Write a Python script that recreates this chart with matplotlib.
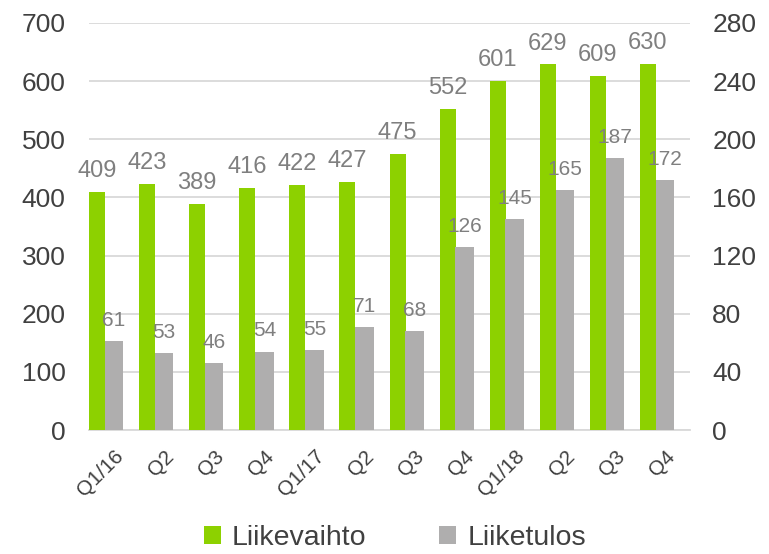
import matplotlib
matplotlib.use("Agg")
import matplotlib.pyplot as plt
import numpy as np

plt.rcParams['font.family'] = ['Liberation Sans', 'DejaVu Sans']

categories = ["Q1/16", "Q2", "Q3", "Q4", "Q1/17", "Q2", "Q3", "Q4", "Q1/18", "Q2", "Q3", "Q4"]
liikevaihto = [409, 423, 389, 416, 422, 427, 475, 552, 601, 629, 609, 630]
liiketulos = [61, 53, 46, 54, 55, 71, 68, 126, 145, 165, 187, 172]

green = "#8DD100"
grey = "#AFAEAE"
label_col = "#7F7F7F"
tick_col = "#404040"
grid_col = "#D9D9D9"

fig = plt.figure(figsize=(7.69, 5.54), dpi=100)
ax = fig.add_axes([89/769, 1-430/554, (690-89)/769, (430-23)/554])
ax2 = ax.twinx()

x = np.arange(len(categories))
gw = 0.32
tw = 0.37
b1 = ax.bar(x - 0.5, liikevaihto, width=gw, align='edge', color=green, zorder=3, label="Liikevaihto")
b2 = ax2.bar(x - 0.5 + gw - 0.005, liiketulos, width=tw, align='edge', color=grey, zorder=3, label="Liiketulos")

ax.set_xlim(-0.5, len(categories) - 0.5)
ax.set_ylim(0, 700)
ax2.set_ylim(0, 280)
ax.set_yticks(np.arange(0, 701, 100))
ax2.set_yticks(np.arange(0, 281, 40))
ax.grid(axis='y', color=grid_col, linewidth=1.3, zorder=0)
ax.set_axisbelow(True)

for a in (ax, ax2):
    for s in a.spines.values():
        s.set_visible(False)
    a.tick_params(length=0, colors=tick_col, labelsize=19)
ax.spines['bottom'].set_visible(True)
ax.spines['bottom'].set_color(grid_col)
ax.spines['bottom'].set_linewidth(1.3)
ax.tick_params(axis='y', pad=17)
ax2.tick_params(axis='y', pad=16)

ax.set_xticks(x)
ax.set_xticklabels(categories, rotation=45, ha='right', rotation_mode='anchor', fontsize=15, color=tick_col)
ax.tick_params(axis='x', pad=12)

for r, v in zip(b1, liikevaihto):
    ax.annotate(str(v), (r.get_x() + r.get_width()/2, v), xytext=(0, 7), textcoords='offset points',
                ha='center', va='bottom', fontsize=17, color=label_col)
for r, v in zip(b2, liiketulos):
    ax2.annotate(str(v), (r.get_x() + r.get_width()/2, v), xytext=(0, 8), textcoords='offset points',
                 ha='center', va='bottom', fontsize=15, color=label_col)

handles = [b1, b2]
fig.legend(handles, ["Liikevaihto", "Liiketulos"], loc='center', bbox_to_anchor=(395/769, 1-538/554),
           ncol=2, frameon=False, fontsize=20.5, handlelength=0.6, handleheight=0.6, handletextpad=0.4,
           columnspacing=2.55, labelcolor=tick_col)

fig.savefig("out.png", dpi=100)
